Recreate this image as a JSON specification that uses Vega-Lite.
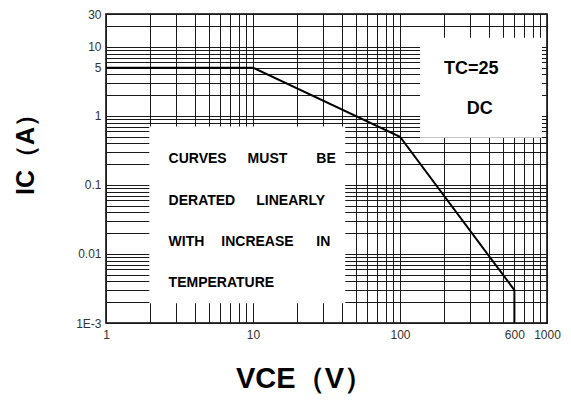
{
  "$schema": "https://vega.github.io/schema/vega-lite/v6.json",
  "width": 441,
  "height": 309,
  "autosize": {"type": "none"},
  "padding": {"left": 106, "top": 14, "right": 24, "bottom": 80},
  "background": "white",
  "config": {
    "font": "Liberation Sans",
    "view": {"stroke": "black", "strokeWidth": 1.5},
    "axis": {"gridColor": "#1a1a1a", "gridOpacity": 1, "gridWidth": 1, "ticks": false, "domain": false, "labelFont": "Liberation Sans", "labelFontSize": 12, "labelColor": "#333333", "labelOverlap": false, "labelFlush": false}
  },
  "datasets": {
    "curve": [
      {"k": 1, "vce": 1, "ic": 5},
      {"k": 2, "vce": 10, "ic": 5},
      {"k": 3, "vce": 100, "ic": 0.5},
      {"k": 4, "vce": 600, "ic": 0.003},
      {"k": 5, "vce": 600, "ic": 0.001}
    ],
    "boxes": [
      {"x1": 1.97, "x2": 42.4, "y1": 0.00194, "y2": 0.706},
      {"x1": 137, "x2": 925, "y1": 0.484, "y2": 13.6}
    ],
    "words": [
      {"w": "CURVES", "vx": 2.666, "vy": 0.2367},
      {"w": "MUST", "vx": 9.19, "vy": 0.2367},
      {"w": "BE", "vx": 26.95, "vy": 0.2367},
      {"w": "DERATED", "vx": 2.666, "vy": 0.0594},
      {"w": "LINEARLY", "vx": 10.53, "vy": 0.0594},
      {"w": "WITH", "vx": 2.666, "vy": 0.0149},
      {"w": "INCREASE", "vx": 6.086, "vy": 0.0149},
      {"w": "IN", "vx": 26.95, "vy": 0.0149},
      {"w": "TEMPERATURE", "vx": 2.666, "vy": 0.003774}
    ],
    "labels": [
      {"t": "TC=25", "vx": 305.5, "vy": 4.72},
      {"t": "DC", "vx": 349, "vy": 1.245}
    ]
  },
  "layer": [
    {
      "data": {"name": "boxes"},
      "mark": {"type": "rect", "fill": "white", "stroke": null},
      "encoding": {
        "x": {"field": "x1", "type": "quantitative", "scale": {"type": "log", "domain": [1, 1000], "nice": false},
          "axis": {"title": "VCE（V）", "titleFont": "Liberation Sans", "titleFontSize": 29, "titleFontWeight": "bold", "titleColor": "black", "titleX": 198, "titleY": 55, "titleBaseline": "middle", "titleAlign": "center",
            "grid": true, "values": [1,2,3,4,5,6,7,8,9,10,20,30,40,50,60,70,80,90,100,200,300,400,500,600,700,800,900,1000],
            "format": "~g", "labelExpr": "indexof([1,10,100,600,1000], datum.value) >= 0 ? datum.label : ''", "labelPadding": 6}},
        "x2": {"field": "x2"},
        "y": {"field": "y1", "type": "quantitative", "scale": {"type": "log", "domain": [0.001, 30], "nice": false},
          "axis": {"title": "IC（A）", "titleFont": "Liberation Sans", "titleFontSize": 25, "titleFontWeight": "bold", "titleColor": "black", "titleX": -81, "titleY": 134, "titleBaseline": "middle", "titleAlign": "center", "titleAngle": -90,
            "grid": true, "values": [0.001,0.002,0.003,0.004,0.005,0.006,0.007,0.008,0.009,0.01,0.02,0.03,0.04,0.05,0.06,0.07,0.08,0.09,0.1,0.2,0.3,0.4,0.5,0.6,0.7,0.8,0.9,1,2,3,4,5,6,7,8,9,10,20,30],
            "format": "~g", "labelExpr": "datum.value == 0.001 ? '1E-3' : (indexof([0.01,0.1,1,5,10,30], datum.value) >= 0 ? datum.label : '')", "labelPadding": 5}},
        "y2": {"field": "y2"}
      }
    },
    {
      "data": {"name": "curve"},
      "mark": {"type": "line", "color": "black", "strokeWidth": 2},
      "encoding": {
        "x": {"field": "vce", "type": "quantitative"},
        "y": {"field": "ic", "type": "quantitative"},
        "order": {"field": "k"}
      }
    },
    {
      "data": {"name": "words"},
      "mark": {"type": "text", "align": "left", "baseline": "middle", "fontSize": 14, "fontWeight": "bold", "color": "black", "font": "Liberation Sans"},
      "encoding": {
        "x": {"field": "vx", "type": "quantitative"},
        "y": {"field": "vy", "type": "quantitative"},
        "text": {"field": "w"}
      }
    },
    {
      "data": {"name": "labels"},
      "mark": {"type": "text", "align": "center", "baseline": "middle", "fontSize": 18, "fontWeight": "bold", "color": "black", "font": "Liberation Sans"},
      "encoding": {
        "x": {"field": "vx", "type": "quantitative"},
        "y": {"field": "vy", "type": "quantitative"},
        "text": {"field": "t"}
      }
    }
  ]
}
